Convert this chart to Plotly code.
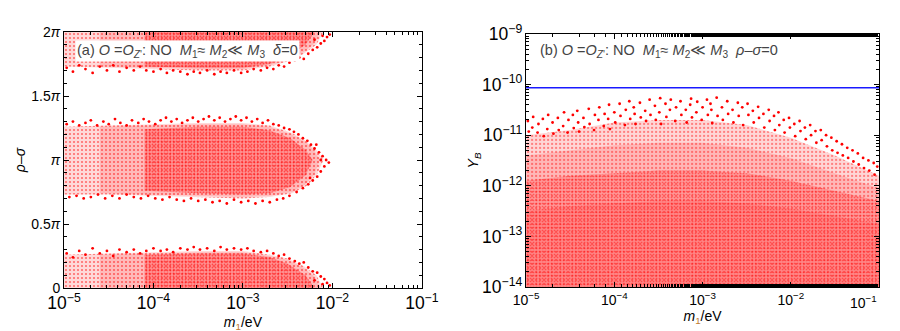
import numpy as np
import plotly.graph_objects as go

# ---- panel (a): rho - sigma (in units of pi) vs log10(m1/eV) ----
# each band: outer outline, a medium-density part and a dense core (log10 m1, v)
mid_outer_L = [-5, -4.5, -4, -3.5, -3, -2.7, -2.45, -2.3, -2.17, -2.1, -2.17, -2.28, -2.45, -2.7, -3, -3.5, -4, -4.5, -5]
mid_outer_v = [1.26, 1.27, 1.28, 1.29, 1.29, 1.27, 1.21, 1.15, 1.07, 1.0, 0.89, 0.8, 0.74, 0.71, 0.7, 0.71, 0.72, 0.73, 0.73]
mid_med_L = [-4.6, -4, -3.5, -3, -2.7, -2.45, -2.3, -2.2, -2.14, -2.2, -2.3, -2.45, -2.7, -3, -3.5, -4, -4.6]
mid_med_v = [1.26, 1.27, 1.28, 1.28, 1.26, 1.2, 1.14, 1.07, 1.0, 0.89, 0.81, 0.75, 0.72, 0.71, 0.72, 0.73, 0.74]
mid_core_L = [-4.1, -3.5, -3, -2.7, -2.47, -2.3, -2.22, -2.3, -2.47, -2.7, -3, -3.5, -4.1]
mid_core_v = [1.24, 1.26, 1.26, 1.23, 1.17, 1.08, 1.0, 0.88, 0.79, 0.74, 0.73, 0.74, 0.76]

bot_outer_L = [-5, -5, -4.5, -4, -3.5, -3, -2.7, -2.5, -2.32, -2.18, -2.1]
bot_outer_v = [0, 0.26, 0.27, 0.28, 0.29, 0.29, 0.26, 0.23, 0.17, 0.1, 0]
bot_med_L = [-4.6, -4.6, -4, -3.5, -3, -2.7, -2.5, -2.33, -2.2, -2.13]
bot_med_v = [0, 0.26, 0.27, 0.28, 0.28, 0.25, 0.22, 0.16, 0.09, 0]
bot_core_L = [-4.1, -4.1, -3.5, -3, -2.7, -2.5, -2.3, -2.2]
bot_core_v = [0, 0.26, 0.27, 0.27, 0.24, 0.19, 0.1, 0]

top_outer_L = [-5, -5, -4.5, -4, -3.5, -3, -2.7, -2.5, -2.32, -2.18, -2.1]
top_outer_v = [2, 1.73, 1.72, 1.71, 1.7, 1.7, 1.73, 1.77, 1.83, 1.9, 2]
top_med_L = [-4.6, -4.6, -4, -3.5, -3, -2.7, -2.5, -2.33, -2.2, -2.13]
top_med_v = [2, 1.73, 1.72, 1.71, 1.71, 1.74, 1.78, 1.84, 1.91, 2]
top_core_L = [-4.1, -4.1, -3.5, -3, -2.7, -2.5, -2.3, -2.2]
top_core_v = [2, 1.73, 1.72, 1.72, 1.75, 1.81, 1.9, 2]

# scattered points along the band edges (log10 m1, v)
fringe_mid = [
    (-4.97, 1.28), (-4.9, 1.3), (-4.83, 1.27), (-4.76, 1.29), (-4.7, 1.31), (-4.63, 1.27), (-4.56, 1.3),
    (-4.5, 1.28), (-4.43, 1.32), (-4.37, 1.29), (-4.3, 1.27), (-4.24, 1.31), (-4.17, 1.29), (-4.11, 1.32),
    (-4.05, 1.3), (-3.98, 1.28), (-3.92, 1.31), (-3.86, 1.33), (-3.8, 1.3), (-3.74, 1.32), (-3.68, 1.29),
    (-3.62, 1.31), (-3.56, 1.33), (-3.5, 1.3), (-3.44, 1.32), (-3.38, 1.34), (-3.32, 1.31), (-3.26, 1.33),
    (-3.2, 1.3), (-3.14, 1.32), (-3.08, 1.34), (-3.02, 1.31), (-2.96, 1.33), (-2.9, 1.3), (-2.84, 1.32),
    (-2.78, 1.29), (-2.72, 1.31), (-2.66, 1.28), (-2.6, 1.27), (-2.54, 1.25), (-2.48, 1.24), (-2.43, 1.22),
    (-2.38, 1.2), (-2.33, 1.17), (-2.28, 1.15), (-2.24, 1.12), (-2.2, 1.09), (-2.15, 1.06), (-2.11, 1.03),
    (-2.07, 1.0), (-2.04, 0.98), (-2.09, 0.95), (-2.13, 0.91), (-2.17, 0.87), (-2.22, 0.84), (-2.27, 0.81),
    (-2.33, 0.78), (-2.4, 0.75), (-2.13, 1.0), (-2.18, 1.12), (-2.25, 0.86),
    (-2.48, 0.72), (-2.55, 0.7), (-2.62, 0.69), (-2.7, 0.67), (-2.78, 0.68), (-2.86, 0.66), (-2.94, 0.68),
    (-3.02, 0.67), (-3.1, 0.69), (-3.18, 0.66), (-3.26, 0.68), (-3.34, 0.67), (-3.42, 0.69), (-3.5, 0.68),
    (-3.58, 0.7), (-3.66, 0.68), (-3.74, 0.69), (-3.82, 0.71), (-3.9, 0.69), (-3.98, 0.7), (-4.06, 0.72),
    (-4.14, 0.7), (-4.22, 0.71), (-4.3, 0.73), (-4.38, 0.7), (-4.46, 0.72), (-4.54, 0.7), (-4.62, 0.73),
    (-4.7, 0.71), (-4.78, 0.7), (-4.86, 0.72), (-4.94, 0.71),
]
fringe_bot = [
    (-4.97, 0.27), (-4.9, 0.24), (-4.83, 0.29), (-4.76, 0.26), (-4.68, 0.31), (-4.6, 0.27), (-4.52, 0.29),
    (-4.45, 0.25), (-4.38, 0.3), (-4.3, 0.28), (-4.22, 0.3), (-4.15, 0.27), (-4.08, 0.29), (-4.0, 0.31),
    (-3.92, 0.29), (-3.85, 0.3), (-3.78, 0.28), (-3.7, 0.31), (-3.62, 0.3), (-3.55, 0.32), (-3.48, 0.3),
    (-3.4, 0.31), (-3.32, 0.29), (-3.25, 0.32), (-3.18, 0.3), (-3.1, 0.31), (-3.02, 0.3), (-2.95, 0.31),
    (-2.88, 0.29), (-2.8, 0.28), (-2.73, 0.29), (-2.66, 0.27), (-2.6, 0.25), (-2.54, 0.26), (-2.48, 0.23),
    (-2.42, 0.21), (-2.37, 0.19), (-2.32, 0.2), (-2.27, 0.16), (-2.22, 0.13), (-2.17, 0.12), (-2.13, 0.09),
    (-2.09, 0.07), (-2.06, 0.04), (-2.03, 0.02), (-2.11, 0.03), (-2.2, 0.06),
]
fringe_top = [
    (-4.97, 1.72), (-4.9, 1.69), (-4.83, 1.74), (-4.76, 1.71), (-4.68, 1.68), (-4.6, 1.73), (-4.52, 1.7),
    (-4.45, 1.74), (-4.38, 1.69), (-4.3, 1.72), (-4.22, 1.7), (-4.15, 1.73), (-4.08, 1.7), (-4.0, 1.69),
    (-3.92, 1.71), (-3.85, 1.68), (-3.78, 1.7), (-3.7, 1.69), (-3.62, 1.67), (-3.55, 1.69), (-3.48, 1.68),
    (-3.4, 1.7), (-3.32, 1.67), (-3.25, 1.69), (-3.18, 1.68), (-3.1, 1.7), (-3.02, 1.68), (-2.95, 1.69),
    (-2.88, 1.71), (-2.8, 1.7), (-2.73, 1.72), (-2.66, 1.71), (-2.6, 1.74), (-2.54, 1.73), (-2.48, 1.76),
    (-2.42, 1.78), (-2.37, 1.8), (-2.32, 1.79), (-2.27, 1.83), (-2.22, 1.86), (-2.17, 1.88), (-2.13, 1.91),
    (-2.09, 1.93), (-2.06, 1.96), (-2.03, 1.98), (-2.11, 1.97), (-2.2, 1.94),
]

# ---- panel (b): log10 Y_B vs log10(m1/eV) ----
env_L = [-5, -4.5, -4, -3.5, -3, -2.5, -2, -1.5, -1]
top_a = [-11.0, -10.9, -10.75, -10.7, -10.7, -10.8, -11.05, -11.4, -11.8]
top_b = [-11.4, -11.3, -11.2, -11.15, -11.15, -11.25, -11.45, -11.75, -12.05]
top_c = [-11.9, -11.8, -11.75, -11.7, -11.7, -11.75, -11.9, -12.1, -12.3]
top_d = [-12.5, -12.4, -12.35, -12.3, -12.3, -12.35, -12.45, -12.6, -12.75]

# sparse points above the dense part of the cloud (log10 m1, log10 Y_B)
fringe_b = [
    (-4.98, -10.72), (-4.97, -10.93), (-4.92, -10.64), (-4.93, -10.85), (-4.87, -10.95), (-4.86, -10.78),
    (-4.81, -10.68), (-4.8, -11.02), (-4.76, -10.88), (-4.75, -10.6), (-4.7, -10.75), (-4.69, -10.97),
    (-4.64, -10.66), (-4.63, -10.9), (-4.58, -10.82), (-4.57, -10.55), (-4.53, -10.95), (-4.52, -10.7),
    (-4.47, -10.6), (-4.46, -10.86), (-4.41, -10.75), (-4.42, -10.52), (-4.4, -10.93), (-4.35, -10.66),
    (-4.34, -10.84), (-4.29, -10.48), (-4.28, -10.78), (-4.23, -10.9), (-4.22, -10.6), (-4.18, -10.7),
    (-4.17, -10.45), (-4.12, -10.82), (-4.11, -10.58), (-4.06, -10.4), (-4.07, -10.68), (-4.05, -10.88),
    (-4.0, -10.55), (-3.99, -10.75), (-3.94, -10.38), (-3.93, -10.62), (-3.88, -10.8), (-3.87, -10.5),
    (-3.83, -10.33), (-3.82, -10.68), (-3.77, -10.58), (-3.78, -10.45), (-3.76, -10.78), (-3.71, -10.36),
    (-3.7, -10.65), (-3.65, -10.52), (-3.64, -10.72), (-3.6, -10.3), (-3.59, -10.6), (-3.54, -10.42),
    (-3.53, -10.7), (-3.48, -10.27), (-3.49, -10.55), (-3.47, -10.78), (-3.42, -10.38), (-3.41, -10.64),
    (-3.37, -10.5), (-3.36, -10.3), (-3.31, -10.72), (-3.3, -10.45), (-3.25, -10.33), (-3.24, -10.6),
    (-3.19, -10.5), (-3.18, -10.75), (-3.13, -10.28), (-3.14, -10.4), (-3.12, -10.65), (-3.07, -10.55),
    (-3.06, -10.34), (-3.01, -10.7), (-3.0, -10.45), (-2.95, -10.3), (-2.94, -10.6), (-2.9, -10.5),
    (-2.91, -10.38), (-2.89, -10.76), (-2.84, -10.26), (-2.83, -10.62), (-2.78, -10.45), (-2.77, -10.7),
    (-2.72, -10.33), (-2.71, -10.58), (-2.66, -10.5), (-2.65, -10.75), (-2.6, -10.36), (-2.59, -10.62),
    (-2.55, -10.45), (-2.54, -10.8), (-2.49, -10.38), (-2.48, -10.6), (-2.43, -10.52), (-2.42, -10.75),
    (-2.37, -10.44), (-2.36, -10.66), (-2.31, -10.58), (-2.3, -10.85), (-2.25, -10.5), (-2.24, -10.72),
    (-2.19, -10.62), (-2.18, -10.9), (-2.14, -10.55), (-2.13, -10.8), (-2.08, -10.7), (-2.07, -10.95),
    (-2.02, -10.66), (-2.01, -10.85), (-1.96, -10.78), (-1.95, -11.02), (-1.9, -10.72), (-1.89, -10.92),
    (-1.84, -10.85), (-1.83, -11.08), (-1.78, -10.8), (-1.77, -11.0), (-1.72, -10.92), (-1.71, -11.15),
    (-1.66, -10.9), (-1.65, -11.1), (-1.6, -11.0), (-1.59, -11.22), (-1.54, -11.05), (-1.53, -11.3),
    (-1.48, -11.12), (-1.47, -11.35), (-1.42, -11.18), (-1.41, -11.4), (-1.36, -11.25), (-1.35, -11.45),
    (-1.3, -11.3), (-1.29, -11.52), (-1.24, -11.36), (-1.23, -11.58), (-1.18, -11.45), (-1.17, -11.65),
    (-1.12, -11.5), (-1.11, -11.7), (-1.06, -11.55), (-1.05, -11.78), (-1.02, -11.62),
]

Y_obs = 8.65e-11

font = "Liberation Sans, Arial, sans-serif"
RED = "#ff0000"
SUB = "#c07a30"


def region(L, v, xa, ya, alpha, size=None, solidity=None):
    tr = dict(x=10 ** np.array(L, dtype=float), y=v, xaxis=xa, yaxis=ya, mode="lines",
              line=dict(width=0), fill="toself", fillcolor="rgba(255,0,0,%.2f)" % alpha, hoverinfo="skip")
    if size:
        tr["fillpattern"] = dict(shape=".", fgcolor=RED, size=size, solidity=solidity, fillmode="overlay")
    return go.Scatter(**tr)


def dots(pts, xa, ya, logy=False):
    L = np.array([p[0] for p in pts])
    v = np.array([p[1] for p in pts])
    if logy:
        v = 10 ** v
    return go.Scatter(x=10 ** L, y=v, mode="markers", marker=dict(color=RED, size=2.8),
                      xaxis=xa, yaxis=ya, hoverinfo="skip")


fig = go.Figure()

for L, v in [(mid_outer_L, mid_outer_v), (bot_outer_L, bot_outer_v), (top_outer_L, top_outer_v)]:
    fig.add_trace(region(L, v, "x", "y", 0.15, 4, 0.22))
for L, v in [(mid_med_L, mid_med_v), (bot_med_L, bot_med_v), (top_med_L, top_med_v)]:
    fig.add_trace(region(L, v, "x", "y", 0.14))
for L, v in [(mid_core_L, mid_core_v), (bot_core_L, bot_core_v), (top_core_L, top_core_v)]:
    fig.add_trace(region(L, v, "x", "y", 0.22, 3, 0.28))
for pts in [fringe_mid, fringe_bot, fringe_top]:
    fig.add_trace(dots(pts, "x", "y"))

bx = list(env_L) + [-1, -5]
fig.add_trace(region(bx, 10 ** np.array(top_a + [-14.2, -14.2]), "x2", "y2", 0.16, 4, 0.22))
fig.add_trace(region(bx, 10 ** np.array(top_b + [-14.2, -14.2]), "x2", "y2", 0.14))
fig.add_trace(region(bx, 10 ** np.array(top_c + [-14.2, -14.2]), "x2", "y2", 0.16, 3, 0.25))
fig.add_trace(region(bx, 10 ** np.array(top_d + [-14.2, -14.2]), "x2", "y2", 0.12))
fig.add_trace(dots(fringe_b, "x2", "y2", logy=True))
fig.add_trace(go.Scatter(x=[1e-5, 1e-1], y=[Y_obs, Y_obs], mode="lines",
                         line=dict(color="#1a1aff", width=1.5), xaxis="x2", yaxis="y2"))

tickfont = dict(family=font, size=14, color="black")
axis_common = dict(showline=True, linecolor="black", linewidth=1, mirror="allticks", ticks="inside",
                   ticklen=5, tickcolor="black", showgrid=False, zeroline=False, tickfont=tickfont)
minor_log = dict(ticks="inside", ticklen=3, tickcolor="black", showgrid=False)
xtitle = dict(text="<i>m</i><span style='color:%s'><sub>1</sub></span>/eV" % SUB,
              font=dict(family=font, size=14, color="black"), standoff=4)

lab_a = ("(a) <i>O</i> =<i>O</i><sub><i>Z</i>'</sub>: NO\u00a0\u00a0<i>M</i><sub>1</sub>\u2248 "
         "<i>M</i><sub>2</sub>\u226a <i>M</i><sub>3</sub>\u00a0\u00a0<i>\u03b4</i>=0")
lab_b = ("(b) <i>O</i> =<i>O</i><sub><i>Z</i>'</sub>: NO\u00a0\u00a0<i>M</i><sub>1</sub>\u2248 "
         "<i>M</i><sub>2</sub>\u226a <i>M</i><sub>3</sub>\u00a0\u00a0<i>\u03c1</i>\u2013<i>\u03c3</i>=0")

fig.update_layout(
    width=900, height=331,
    margin=dict(l=55, r=16, t=12, b=47),
    plot_bgcolor="white", paper_bgcolor="white",
    showlegend=False,
    font=dict(family=font, size=14, color="black"),
    xaxis=dict(axis_common, type="log", range=[-5, -1], dtick=1, exponentformat="power", minor=minor_log,
               title=xtitle, domain=[0, 0.4391], anchor="y"),
    xaxis2=dict(axis_common, type="log", range=[-5, -1], tickvals=[1e-5, 1e-4, 1e-3, 1e-2],
                ticktext=["10<sup>\u22125</sup>", "10<sup>\u22124</sup>", "10<sup>\u22123</sup>", "10<sup>\u22122</sup>"],
                minor=minor_log, title=xtitle, domain=[0.567, 1], anchor="y2"),
    yaxis=dict(axis_common, range=[0, 2], tickvals=[0, 0.5, 1, 1.5, 2],
               ticktext=["0", "0.5<i>\u03c0</i>", "<i>\u03c0</i>", "1.5<i>\u03c0</i>", "2<i>\u03c0</i>"],
               minor=dict(ticks="inside", ticklen=3, tickcolor="black", dtick=0.1, showgrid=False),
               title=dict(text="<i>\u03c1</i>\u2013<i>\u03c3</i>", font=dict(family=font, size=14), standoff=2),
               anchor="x", domain=[0, 1]),
    yaxis2=dict(axis_common, type="log", range=[-14, -9], dtick=1, exponentformat="power", minor=minor_log,
                title=dict(text="<i>Y</i><sub><i>B</i></sub>", font=dict(family=font, size=14), standoff=0),
                anchor="x2", domain=[0.0037, 0.9926]),
    annotations=[
        dict(text=lab_a, x=0.013, y=0.925, xref="paper", yref="paper", xanchor="left", yanchor="middle",
             showarrow=False, bgcolor="white", borderpad=1, font=dict(family=font, size=14.5, color="#444")),
        dict(text=lab_b, x=0.5814, y=0.925, xref="paper", yref="paper", xanchor="left", yanchor="middle",
             showarrow=False, font=dict(family=font, size=14.5, color="#444")),
        dict(text="10<sup>\u22121</sup>", x=1, y=0, xref="paper", yref="paper", xanchor="right", yanchor="top",
             yshift=-3, showarrow=False, font=tickfont),
    ],
)

fig.write_html("out.html")
